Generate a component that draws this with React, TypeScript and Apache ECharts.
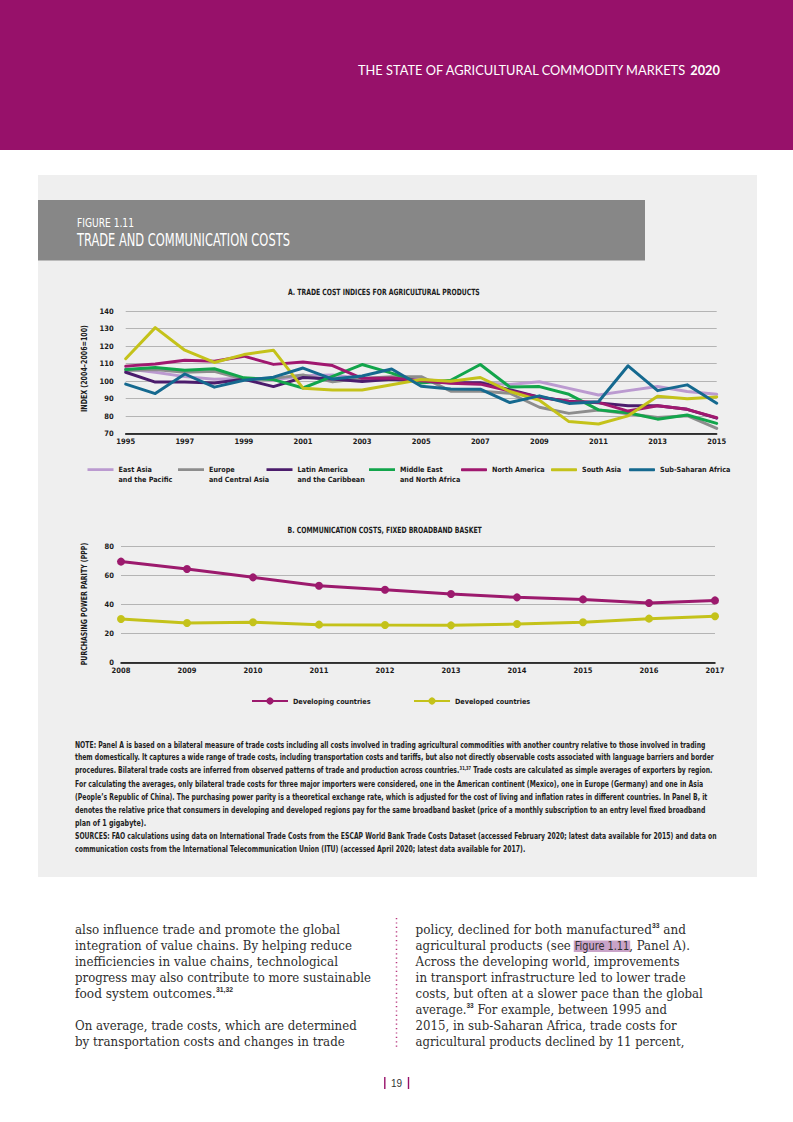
import React, { useEffect, useRef } from 'react';
import * as echarts from 'echarts';

// ---------------- DATA ----------------
const YEARS_A = ['1995','1996','1997','1998','1999','2000','2001','2002','2003','2004','2005','2006','2007','2008','2009','2010','2011','2012','2013','2014','2015'];
const EAST_ASIA = [107, 105, 102.5, 101, 101.5, 100.5, 103, 103.5, 101.5, 102, 101, 99.5, 99, 98, 99.6, 95.8, 92, 94.5, 96.8, 94, 92.4];
const EUROPE = [106, 106.5, 105, 105.5, 101, 101.5, 103.5, 99.5, 101.5, 102.5, 102.5, 94.2, 94.2, 93, 85, 81.5, 83.4, 81.3, 79.2, 80.2, 72.9];
const LATIN_AMERICA = [105, 99.4, 99.4, 98.8, 101, 96.8, 102, 101.2, 99.7, 101, 100, 99, 99, 95, 90.7, 88.5, 87.5, 85.8, 85.8, 83.8, 78.8];
const MIDDLE_EAST = [106.6, 107.7, 106.2, 107, 101.8, 100.8, 96, 102.6, 109.4, 104.5, 98.9, 100.4, 109.4, 96.6, 96.8, 92.4, 83.5, 81.9, 78.2, 80.6, 75.8];
const NORTH_AMERICA = [108.5, 109.7, 111.8, 111.3, 114.2, 109.5, 110.9, 108.8, 101.5, 101.7, 100.2, 98.7, 98.2, 94.3, 90.7, 88.3, 87.8, 82.8, 85.8, 83.8, 79];
const SOUTH_ASIA = [112.7, 130.5, 117.6, 110.6, 115.1, 117.6, 95.9, 94.9, 94.9, 97.9, 100.9, 99.8, 102, 94, 89, 76.8, 75.4, 80.1, 91.3, 89.9, 90.9];
const SUB_SAHARAN = [98.2, 92.8, 104, 96.5, 100.4, 102.2, 107.4, 101.1, 102.9, 106.9, 97, 95.4, 95.3, 87.7, 91.5, 87.2, 88.1, 108.7, 94.5, 97.8, 87.3];

const SERIES_A_NAMES = ['East Asia and the Pacific', 'Europe and Central Asia', 'Latin America and the Caribbean', 'Middle East and North Africa', 'North America', 'South Asia', 'Sub-Saharan Africa'];
const SERIES_A_LABELS = ['East Asia\nand the Pacific', 'Europe\nand Central Asia', 'Latin America\nand the Caribbean', 'Middle East\nand North Africa', 'North America', 'South Asia', 'Sub-Saharan Africa'];
const SERIES_A_VALUES = [EAST_ASIA, EUROPE, LATIN_AMERICA, MIDDLE_EAST, NORTH_AMERICA, SOUTH_ASIA, SUB_SAHARAN];
const SERIES_A_COLORS = ['#bb9ad0', '#8d8d8d', '#4b1c6c', '#12a54b', '#a0186f', '#c4c21a', '#15698f'];

const YEARS_B = ['2008','2009','2010','2011','2012','2013','2014','2015','2016','2017'];
const DEVELOPING = [69.3, 64.2, 58.5, 52.8, 50, 47.1, 44.8, 43.4, 40.9, 42.7];
const DEVELOPED = [30, 27.2, 27.7, 26.1, 25.8, 25.6, 26.5, 27.7, 30.2, 31.8];

const NOTE_LINES = [
  'NOTE: Panel A is based on a bilateral measure of trade costs including all costs involved in trading agricultural commodities with another country relative to those involved in trading',
  'them domestically. It captures a wide range of trade costs, including transportation costs and tariffs, but also not directly observable costs associated with language barriers and border',
  'procedures. Bilateral trade costs are inferred from observed patterns of trade and production across countries.|31,37| Trade costs are calculated as simple averages of exporters by region.',
  'For calculating the averages, only bilateral trade costs for three major importers were considered, one in the American continent (Mexico), one in Europe (Germany) and one in Asia',
  '(People’s Republic of China). The purchasing power parity is a theoretical exchange rate, which is adjusted for the cost of living and inflation rates in different countries. In Panel B, it',
  'denotes the relative price that consumers in developing and developed regions pay for the same broadband basket (price of a monthly subscription to an entry level fixed broadband',
  'plan of 1 gigabyte).',
  'SOURCES: FAO calculations using data on International Trade Costs from the ESCAP World Bank Trade Costs Dataset (accessed February 2020; latest data available for 2015) and data on',
  'communication costs from the International Telecommunication Union (ITU) (accessed April 2020; latest data available for 2017).',
];
const NOTE_ENDS = [705, 714, 712.5, 703, 707, 705.5, 146, 716, 526];

const BODY_LEFT = [
  'also influence trade and promote the global',
  'integration of value chains. By helping reduce',
  'inefficiencies in value chains, technological',
  'progress may also contribute to more sustainable',
  'food system outcomes.|31,32|',
  '',
  'On average, trade costs, which are determined',
  'by transportation costs and changes in trade',
];
const BODY_LEFT_ENDS = [340, 352, 338, 371, 233, 0, 357, 345];
const BODY_RIGHT = [
  'policy, declined for both manufactured|33| and',
  'agricultural products (see #Figure 1.11#, Panel A).',
  'Across the developing world, improvements',
  'in transport infrastructure led to lower trade',
  'costs, but often at a slower pace than the global',
  'average.|33| For example, between 1995 and',
  '2015, in sub-Saharan Africa, trade costs for',
  'agricultural products declined by 11 percent,',
];
const BODY_RIGHT_ENDS = [686, 690, 680, 686, 703, 667, 677, 684.5];

// ---------------- HELPERS ----------------
const CONDENSED = "'Liberation Sans Narrow','DejaVu Sans Condensed','Roboto Condensed','Liberation Sans',Arial,sans-serif";
const SERIF = "'DejaVu Serif','Liberation Serif',serif";
const INK = '#1b1b1b';

let _ctx: CanvasRenderingContext2D | null = null;
function textWidth(t: string, font: string): number {
  if (!_ctx) _ctx = document.createElement('canvas').getContext('2d');
  _ctx!.font = font;
  return _ctx!.measureText(t).width;
}

interface Seg { t: string; size?: number; family?: string; weight?: string; fill?: string; dy?: number; mark?: boolean }
interface Base { size: number; family: string; weight: string; fill: string }

function fitLine(segs: Seg[], x: number, y: number, x2: number | null, base: Base, out: any[], z = 10) {
  const parts = segs.map((s) => {
    const size = s.size ?? base.size;
    const family = s.family ?? base.family;
    const weight = s.weight ?? base.weight;
    const fill = s.fill ?? base.fill;
    const w = textWidth(s.t, `${weight} ${size}px ${family}`);
    return { ...s, size, family, weight, fill, w, x0: 0, x1: 0 };
  });
  const total = parts.reduce((a, p) => a + p.w, 0);
  const sc = x2 == null || total === 0 ? 1 : (x2 - x) / total;
  let cx = x;
  for (const p of parts) {
    out.push({
      type: 'text', x: cx, y: y + (p.dy || 0), scaleX: sc, z, silent: true,
      style: {
        text: p.t, fontSize: p.size, fontFamily: p.family, fontWeight: p.weight, fill: p.fill,
        align: 'left', verticalAlign: 'middle', textAlign: 'left', textVerticalAlign: 'middle',
      },
    });
    p.x0 = cx;
    cx += p.w * sc;
    p.x1 = cx;
  }
  return parts;
}

// parse "|sup|" and "#mark#" markers
function parseSegs(line: string, supStyle: Seg, markStyle: Seg): Seg[] {
  const segs: Seg[] = [];
  const re = /(\|[^|]+\||#[^#]+#)/g;
  let last = 0;
  let m: RegExpExecArray | null;
  while ((m = re.exec(line))) {
    if (m.index > last) segs.push({ t: line.slice(last, m.index) });
    const tok = m[0];
    if (tok[0] === '|') segs.push({ ...supStyle, t: tok.slice(1, -1) });
    else segs.push({ ...markStyle, t: tok.slice(1, -1), mark: true });
    last = m.index + tok.length;
  }
  if (last < line.length) segs.push({ t: line.slice(last) });
  return segs;
}

function rotatedText(text: string, cx: number, cy: number, len: number, size: number, out: any[]) {
  const w = textWidth(text, `bold ${size}px ${CONDENSED}`);
  out.push({
    type: 'text', x: cx, y: cy, rotation: Math.PI / 2, scaleX: len / w, z: 10, silent: true,
    style: {
      text, fontSize: size, fontFamily: CONDENSED, fontWeight: 'bold', fill: INK,
      align: 'center', verticalAlign: 'middle', textAlign: 'center', textVerticalAlign: 'middle',
    },
  });
}

function buildGraphics(): any[] {
  const g: any[] = [];
  // backgrounds
  g.push({ type: 'rect', z: -10, silent: true, shape: { x: 0, y: 0, width: 793, height: 150 }, style: { fill: '#97116a' } });
  g.push({ type: 'rect', z: -10, silent: true, shape: { x: 38, y: 175, width: 719, height: 702 }, style: { fill: '#efefef' } });
  g.push({ type: 'rect', z: -9, silent: true, shape: { x: 38, y: 200, width: 607, height: 60.5 }, style: { fill: '#878787' } });

  // header
  fitLine([{ t: 'THE STATE OF AGRICULTURAL COMMODITY MARKETS ' }, { t: '2020', weight: 'bold' }], 358, 71, 720,
    { size: 12.5, family: "Lato,'Noto Sans',sans-serif", weight: 'normal', fill: '#ffffff' }, g);

  // figure title
  fitLine([{ t: 'FIGURE 1.11' }], 77, 222.7, 134, { size: 12.5, family: CONDENSED, weight: 'normal', fill: '#ffffff' }, g);
  fitLine([{ t: 'TRADE AND COMMUNICATION COSTS' }], 77, 240.5, 290, { size: 17.5, family: CONDENSED, weight: 'normal', fill: '#ffffff' }, g);

  // panel titles
  fitLine([{ t: 'A. TRADE COST INDICES FOR AGRICULTURAL PRODUCTS' }], 288, 292.5, 480, { size: 8.5, family: CONDENSED, weight: 'bold', fill: INK }, g);
  fitLine([{ t: 'B. COMMUNICATION COSTS, FIXED BROADBAND BASKET' }], 287.6, 530, 482, { size: 8.5, family: CONDENSED, weight: 'bold', fill: INK }, g);

  // axis names
  rotatedText('INDEX (2004–2006=100)', 84, 368.5, 87, 8.5, g);
  rotatedText('PURCHASING POWER PARITY (PPP)', 84, 604, 122.5, 8.5, g);

  // notes
  const noteBase: Base = { size: 9.2, family: CONDENSED, weight: 'bold', fill: '#1e1e1e' };
  NOTE_LINES.forEach((line, i) => {
    const segs = parseSegs(line, { size: 5.5, dy: -2.5 }, {});
    fitLine(segs, 75, 744.3 + i * 13.08, NOTE_ENDS[i], noteBase, g);
  });

  // body text
  const bodyBase: Base = { size: 12.5, family: SERIF, weight: 'normal', fill: '#2e2e2e' };
  const sup: Seg = { size: 7, family: "'Liberation Sans',sans-serif", weight: 'bold', dy: -4.5 };
  const mark: Seg = { size: 11.5, family: CONDENSED, weight: 'normal' };
  BODY_LEFT.forEach((line, i) => {
    if (!line) return;
    fitLine(parseSegs(line, sup, mark), 75, 930 + i * 16.05, BODY_LEFT_ENDS[i], bodyBase, g);
  });
  BODY_RIGHT.forEach((line, i) => {
    const parts = fitLine(parseSegs(line, sup, mark), 415.6, 930 + i * 16.05, BODY_RIGHT_ENDS[i], bodyBase, g);
    parts.forEach((p) => {
      if (p.mark) {
        g.push({ type: 'rect', z: -5, silent: true, shape: { x: p.x0 - 1, y: 940.5, width: p.x1 - p.x0 + 2, height: 11.5 }, style: { fill: '#c9a3c8' } });
      }
    });
  });

  // dotted divider
  g.push({ type: 'line', z: 5, silent: true, shape: { x1: 396.5, y1: 918, x2: 396.5, y2: 1048 }, style: { stroke: '#b8387f', lineWidth: 1.5, lineDash: [1.2, 3.2] } });

  // page number
  g.push({ type: 'line', z: 5, silent: true, shape: { x1: 384.8, y1: 1077, x2: 384.8, y2: 1089 }, style: { stroke: '#97116a', lineWidth: 1.4 } });
  g.push({ type: 'line', z: 5, silent: true, shape: { x1: 408.5, y1: 1077, x2: 408.5, y2: 1089 }, style: { stroke: '#97116a', lineWidth: 1.4 } });
  g.push({
    type: 'text', x: 396.6, y: 1083.5, z: 10, silent: true,
    style: { text: '19', fontSize: 10, fontFamily: "'Liberation Sans',sans-serif", fill: '#333333', align: 'center', verticalAlign: 'middle', textAlign: 'center', textVerticalAlign: 'middle' },
  });
  return g;
}

// legend icon: bar near the top of a 26x20 box (aligns with first text line)
const ICON_TOP_BAR = 'path://M0,0 L0.05,0 L0,0.05 Z M0,3.6 L26,3.6 L26,6.4 L0,6.4 Z M26,20 L25.95,20 L26,19.95 Z';
const LEGEND_A_X = [87.5, 178, 266.5, 369, 461, 551, 629];

function buildOption(): any {
  const axisFont = { fontSize: 7.5, fontFamily: CONDENSED, fontWeight: 'bold', color: INK };
  const legendText = { fontSize: 7.2, fontFamily: CONDENSED, fontWeight: 'bold', color: INK, lineHeight: 10 };

  const legendsA = SERIES_A_NAMES.map((name, i) => {
    const twoLine = SERIES_A_LABELS[i].indexOf('\n') >= 0;
    return {
      data: [name], left: LEGEND_A_X[i], top: 464.7, padding: 0, orient: 'horizontal',
      itemWidth: 26, itemHeight: twoLine ? 20 : 3,
      icon: twoLine ? ICON_TOP_BAR : 'roundRect',
      textStyle: legendText, selectedMode: false,
      formatter: () => SERIES_A_LABELS[i],
    };
  });

  const legendsB = [
    { data: ['Developing countries'], left: 251, top: 696, padding: 0, itemWidth: 36, itemHeight: 9, textStyle: legendText, selectedMode: false },
    { data: ['Developed countries'], left: 413, top: 696, padding: 0, itemWidth: 36, itemHeight: 9, textStyle: legendText, selectedMode: false },
  ];

  const seriesA = SERIES_A_NAMES.map((name, i) => ({
    name, type: 'line', xAxisIndex: 0, yAxisIndex: 0, data: SERIES_A_VALUES[i],
    showSymbol: false, symbol: 'none', silent: true,
    lineStyle: { width: 3, color: SERIES_A_COLORS[i], cap: 'round', join: 'round' },
    itemStyle: { color: SERIES_A_COLORS[i] },
  }));

  const seriesB = [
    { name: 'Developing countries', data: DEVELOPING, color: '#9c1a6d' },
    { name: 'Developed countries', data: DEVELOPED, color: '#c4c21a' },
  ].map((s) => ({
    name: s.name, type: 'line', xAxisIndex: 1, yAxisIndex: 1, data: s.data,
    symbol: 'circle', symbolSize: 8, showSymbol: true, silent: true,
    lineStyle: { width: 3, color: s.color },
    itemStyle: { color: s.color },
  }));

  return {
    animation: false,
    backgroundColor: '#ffffff',
    grid: [
      { left: 125.7, right: 76.3, top: 311, height: 122.5 },
      { left: 121, right: 78, top: 546, height: 116.7 },
    ],
    xAxis: [
      {
        type: 'category', gridIndex: 0, data: YEARS_A, boundaryGap: false,
        axisLine: { lineStyle: { color: '#000000', width: 1.5 } }, axisTick: { show: false },
        axisLabel: { ...axisFont, interval: 1, margin: 4 }, splitLine: { show: false },
      },
      {
        type: 'category', gridIndex: 1, data: YEARS_B, boundaryGap: false,
        axisLine: { lineStyle: { color: '#000000', width: 1.5 } }, axisTick: { show: false },
        axisLabel: { ...axisFont, interval: 0, margin: 4 }, splitLine: { show: false },
      },
    ],
    yAxis: [
      {
        type: 'value', gridIndex: 0, min: 70, max: 140, interval: 10,
        axisLine: { show: false }, axisTick: { show: false },
        axisLabel: { ...axisFont, margin: 12 },
        splitLine: { lineStyle: { color: '#b4b4b4', width: 1 } },
      },
      {
        type: 'value', gridIndex: 1, min: 0, max: 80, interval: 20,
        axisLine: { show: false }, axisTick: { show: false },
        axisLabel: { ...axisFont, margin: 7 },
        splitLine: { lineStyle: { color: '#b4b4b4', width: 1 } },
      },
    ],
    legend: [...legendsA, ...legendsB],
    series: [...seriesA, ...seriesB],
    graphic: { elements: buildGraphics() },
  };
}

export default function App() {
  const ref = useRef<HTMLDivElement>(null);
  useEffect(() => {
    if (!ref.current) return;
    const chart = echarts.init(ref.current, undefined, { renderer: 'svg' });
    chart.setOption(buildOption());
    return () => chart.dispose();
  }, []);
  return (
    <div
      ref={ref}
      style={{ position: 'absolute', left: 0, top: 0, width: 793, height: 1122, background: '#ffffff' }}
    />
  );
}
